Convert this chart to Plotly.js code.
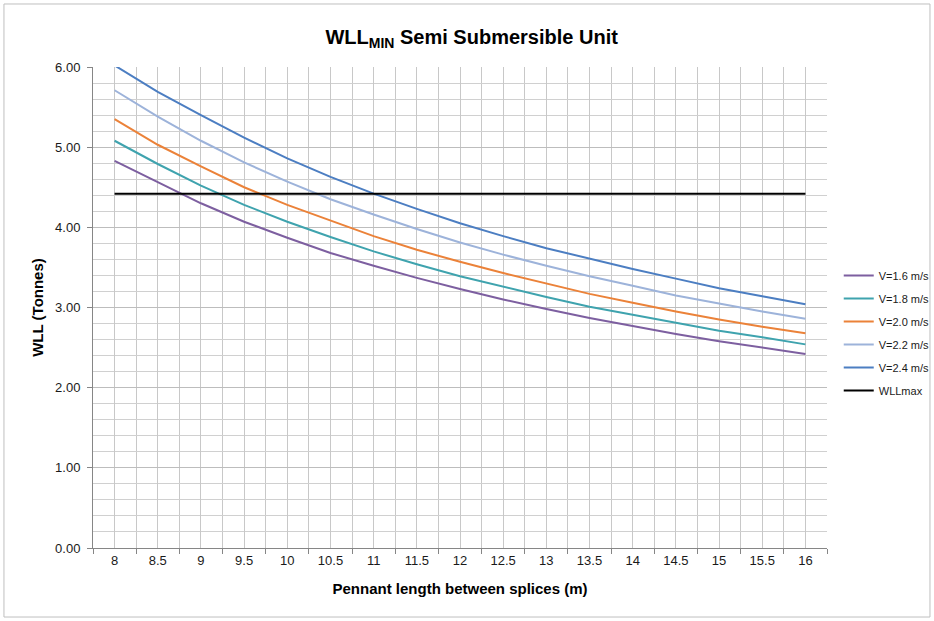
<!DOCTYPE html>
<html>
<head>
<meta charset="utf-8">
<script src="https://cdn.plot.ly/plotly-3.0.1.min.js"></script>
<style>html,body{margin:0;padding:0;background:#fff;}#chart{width:934px;height:621px;}</style>
</head>
<body>
<div id="chart"></div>
<script>
var lengths = [8, 8.5, 9, 9.5, 10, 10.5, 11, 11.5, 12, 12.5, 13, 13.5, 14, 14.5, 15, 15.5, 16];
var v16 = [4.83, 4.56, 4.30, 4.07, 3.87, 3.68, 3.52, 3.37, 3.23, 3.10, 2.98, 2.87, 2.77, 2.67, 2.58, 2.50, 2.42];
var v18 = [5.08, 4.79, 4.52, 4.28, 4.07, 3.88, 3.70, 3.54, 3.39, 3.26, 3.13, 3.01, 2.91, 2.81, 2.71, 2.63, 2.54];
var v20 = [5.35, 5.03, 4.76, 4.50, 4.28, 4.08, 3.89, 3.72, 3.57, 3.43, 3.30, 3.17, 3.06, 2.95, 2.85, 2.76, 2.68];
var v22 = [5.71, 5.38, 5.08, 4.81, 4.57, 4.35, 4.16, 3.98, 3.81, 3.66, 3.52, 3.39, 3.27, 3.15, 3.05, 2.95, 2.86];
var v24 = [6.02, 5.69, 5.40, 5.12, 4.86, 4.63, 4.42, 4.23, 4.05, 3.89, 3.74, 3.61, 3.48, 3.36, 3.24, 3.14, 3.04];
var wllMax = 4.42;
var seriesNames = ["V=1.6 m/s", "V=1.8 m/s", "V=2.0 m/s", "V=2.2 m/s", "V=2.4 m/s", "WLLmax"];
var tickLabels = ["8", "8.5", "9", "9.5", "10", "10.5", "11", "11.5", "12", "12.5", "13", "13.5", "14", "14.5", "15", "15.5", "16"];
var titleText = "WLL<sub>MIN</sub> Semi Submersible Unit";
var xTitle = "Pennant length between splices (m)";
var yTitle = "WLL (Tonnes)";

var colors = ["#7D5FA0", "#3FA3AE", "#EB8239", "#9DB3DA", "#4C7EC2", "#000000"];
var seriesVals = [v16, v18, v20, v22, v24, lengths.map(function(){return wllMax;})];

var FONT = "'Liberation Sans', sans-serif";

var traces = seriesVals.map(function(vals, i){
  return {
    x: lengths, y: vals, type: "scatter", mode: "lines",
    name: seriesNames[i], legendgroup: "g" + i,
    line: {color: colors[i], width: 2},
    hoverinfo: "skip"
  };
});

var layout = {
  width: 934, height: 621,
  margin: {l: 93, r: 107, t: 67, b: 73, autoexpand: false},
  paper_bgcolor: "#ffffff", plot_bgcolor: "#ffffff",
  font: {family: FONT, color: "#1a1a1a", size: 13},
  title: {text: titleText, font: {family: FONT, size: 20, color: "#000", weight: "bold"},
          x: 0.505, xref: "container", xanchor: "center", y: 0.94, yref: "container", yanchor: "middle"},
  showlegend: true,
  legend: {x: 1.016, xanchor: "left", y: 0.447, yanchor: "middle", font: {family: FONT, size: 11, color: "#1a1a1a"},
           itemwidth: 30, tracegroupgap: 4, bgcolor: "rgba(0,0,0,0)"},
  xaxis: {
    range: [7.75, 16.25], fixedrange: true,
    tickmode: "array", tickvals: lengths, ticktext: tickLabels, ticks: "",
    showgrid: true, gridcolor: "#c8c8c8", gridwidth: 1,
    minor: {tickmode: "linear", tick0: 7.75, dtick: 0.5, ticks: "outside", ticklen: 5, tickcolor: "#868686", showgrid: true, gridcolor: "#c8c8c8", gridwidth: 1},
    showline: true, linecolor: "#868686", linewidth: 1,
    zeroline: false,
    tickfont: {family: FONT, size: 13, color: "#1a1a1a"},
    title: {text: xTitle, font: {family: FONT, size: 15, color: "#000", weight: "bold"}, standoff: 16}
  },
  yaxis: {
    range: [0, 6], fixedrange: true,
    tickmode: "linear", tick0: 0, dtick: 1, tickformat: ".2f",
    ticks: "outside", ticklen: 5, tickcolor: "#868686", ticklabelstandoff: 4,
    showgrid: true, gridcolor: "#bdbdbd", gridwidth: 1,
    minor: {tickmode: "linear", tick0: 0, dtick: 0.2, ticks: "", showgrid: true, gridcolor: "#d0d0d0", gridwidth: 1},
    showline: true, linecolor: "#868686", linewidth: 1,
    zeroline: false,
    tickfont: {family: FONT, size: 13, color: "#1a1a1a"},
    title: {text: yTitle, font: {family: FONT, size: 15, color: "#000", weight: "bold"}, standoff: 7}
  },
  shapes: [{
    type: "rect", xref: "paper", yref: "paper",
    x0: -0.1213, x1: 1.1403, y0: -0.1435, y1: 1.131,
    line: {color: "#bfbfbf", width: 1}, fillcolor: "rgba(0,0,0,0)", layer: "below"
  }]
};

Plotly.newPlot("chart", traces, layout, {staticPlot: true, displayModeBar: false});
</script>
</body>
</html>
